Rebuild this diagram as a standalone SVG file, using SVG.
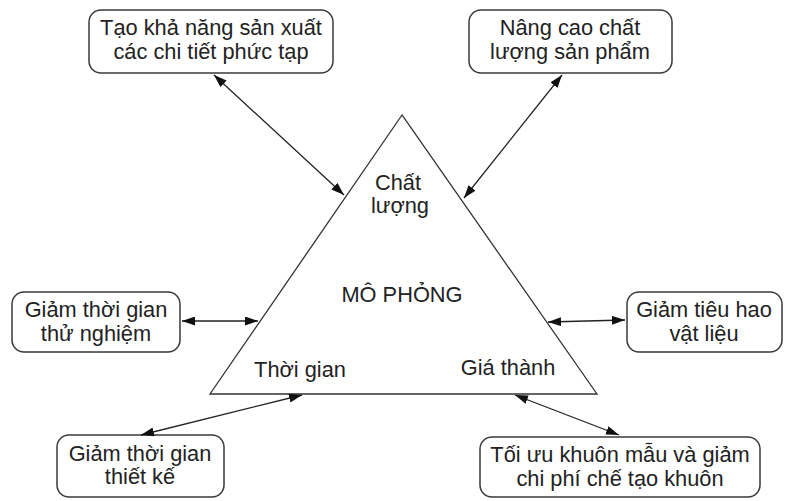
<svg xmlns="http://www.w3.org/2000/svg" width="786" height="501" viewBox="0 0 786 501">
<style>
.box{fill:#fff;stroke:#3a3a3a;stroke-width:1.5}
.tri{fill:#fff;stroke:#333;stroke-width:1.3}
text{font-family:"Liberation Sans",Arial,sans-serif;font-size:21.8px;fill:#222;text-anchor:middle}
.con line{stroke:#222;stroke-width:1.3;marker-start:url(#ah);marker-end:url(#ah)}
</style>
<defs>
<marker id="ah" markerUnits="userSpaceOnUse" markerWidth="13" markerHeight="9" refX="13" refY="4.5" orient="auto-start-reverse">
<path d="M0,0 L13,4.5 L0,9 z" fill="#111"/>
</marker>
</defs>
<rect width="786" height="501" fill="#fff"/>
<g id="center">
<polygon class="tri" points="402,115 210,394 597,394"/>
<text x="398" y="190">Chất</text>
<text x="400" y="213">lượng</text>
<text x="402" y="302">MÔ PHỎNG</text>
<text x="300" y="377">Thời gian</text>
<text x="508" y="375">Giá thành</text>
</g>
<g id="n1">
<rect class="box" x="89" y="10" width="244" height="63" rx="12"/>
<text x="211" y="35">Tạo khả năng sản xuất</text>
<text x="211" y="59">các chi tiết phức tạp</text>
</g>
<g id="n2">
<rect class="box" x="469" y="10" width="203" height="63" rx="12"/>
<text x="570" y="35">Nâng cao chất</text>
<text x="570" y="59">lượng sản phẩm</text>
</g>
<g id="n3">
<rect class="box" x="12" y="292" width="168" height="60" rx="12"/>
<text x="96" y="317">Giảm thời gian</text>
<text x="96" y="341">thử nghiệm</text>
</g>
<g id="n4">
<rect class="box" x="627" y="292" width="155" height="60" rx="12"/>
<text x="704" y="317">Giảm tiêu hao</text>
<text x="704" y="341">vật liệu</text>
</g>
<g id="n5">
<rect class="box" x="57" y="435" width="167" height="62" rx="12"/>
<text x="140" y="461">Giảm thời gian</text>
<text x="140" y="484">thiết kế</text>
</g>
<g id="n6">
<rect class="box" x="480" y="437" width="280" height="60" rx="12"/>
<text x="620" y="462">Tối ưu khuôn mẫu và giảm</text>
<text x="620" y="486">chi phí chế tạo khuôn</text>
</g>
<g id="connectors" class="con">
<line x1="214" y1="75" x2="344" y2="195"/>
<line x1="562" y1="75" x2="464" y2="198"/>
<line x1="182" y1="321" x2="258" y2="321"/>
<line x1="548" y1="322" x2="625" y2="320"/>
<line x1="141" y1="435" x2="302" y2="395"/>
<line x1="515" y1="395" x2="619" y2="435"/>
</g>
</svg>
